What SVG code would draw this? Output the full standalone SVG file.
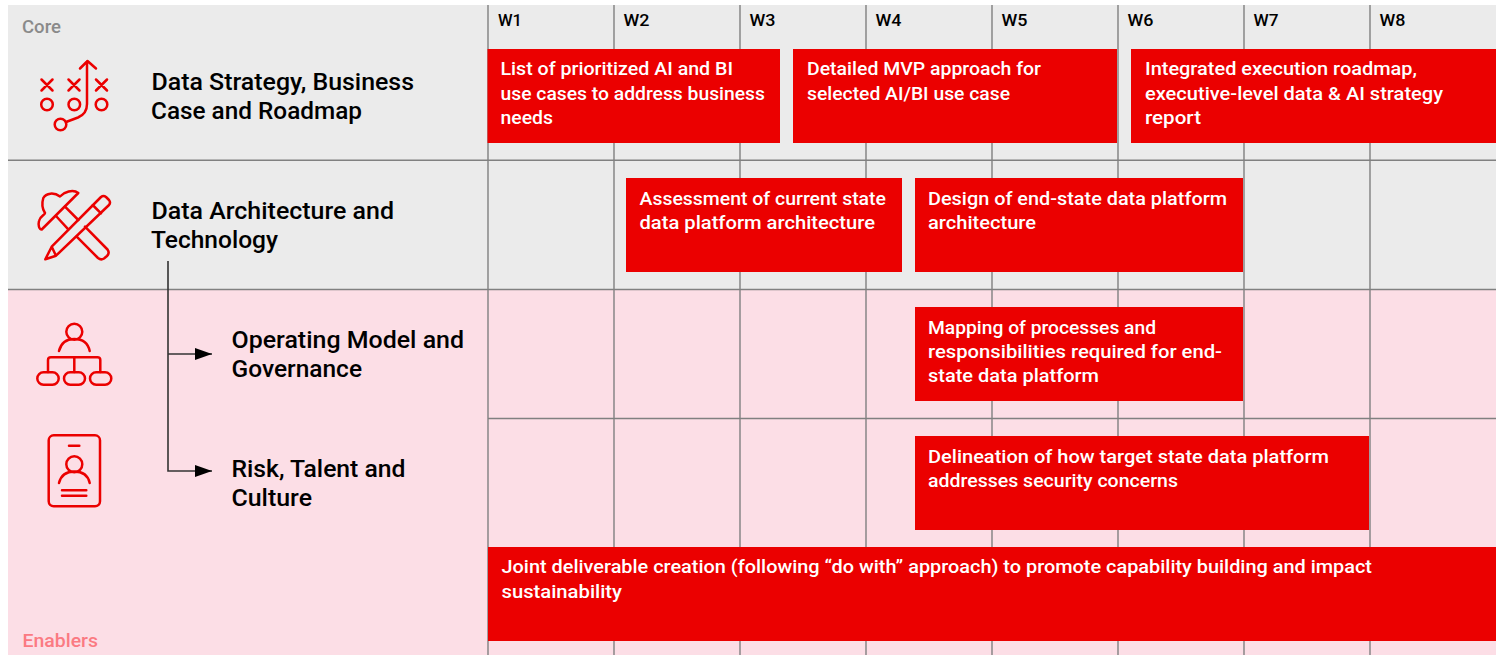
<svg xmlns="http://www.w3.org/2000/svg" width="1501" height="655" viewBox="0 0 1501 655">
<defs>
<marker id="arrow" markerUnits="userSpaceOnUse" markerWidth="18" markerHeight="14" refX="17" refY="6.5" orient="auto"><path d="M0 0.5L17 6.5L0 12.5Z" fill="#000"/></marker>
</defs>
<style>
text{font-family:Roboto,"Noto Sans","Liberation Sans",sans-serif;font-weight:500}
.h{font-size:24.500px;fill:#000}
.w{font-size:17px;fill:#000}
.b{font-size:18.500px;fill:#fff}
.g{fill:none;stroke:#808080;stroke-width:1.4}
.box{fill:#eb0000}
.i{fill:none;stroke:#eb0000;stroke-width:2.500;stroke-linecap:round;stroke-linejoin:round}
.c{fill:none;stroke:#333;stroke-width:1.6}
</style>
<rect x="8" y="5" width="1488" height="285" fill="#ebebeb"/>
<rect x="8" y="290" width="1488" height="365" fill="#fcdee6"/>
<g id="grid">
<path class="g" d="M488 5V655M614 5V655M740 5V655M866 5V655M992 5V655M1118 5V655M1244 5V655M1370 5V655M8 160.300H1496M8 289.500H1496M488 418.500H1496"/>
</g>
<text x="22" y="33" font-size="17.500" fill="#8a8a8a" textLength="39" lengthAdjust="spacingAndGlyphs">Core</text>
<text x="22.500" y="647" font-size="17.500" fill="#fb7a82" textLength="75.500" lengthAdjust="spacingAndGlyphs">Enablers</text>
<g id="weeks">
<text class="w" x="498" y="26" textLength="24" lengthAdjust="spacingAndGlyphs">W1</text>
<text class="w" x="623.500" y="26" textLength="26" lengthAdjust="spacingAndGlyphs">W2</text>
<text class="w" x="749.500" y="26" textLength="26" lengthAdjust="spacingAndGlyphs">W3</text>
<text class="w" x="875.500" y="26" textLength="26" lengthAdjust="spacingAndGlyphs">W4</text>
<text class="w" x="1001.500" y="26" textLength="26" lengthAdjust="spacingAndGlyphs">W5</text>
<text class="w" x="1127.500" y="26" textLength="26" lengthAdjust="spacingAndGlyphs">W6</text>
<text class="w" x="1253.500" y="26" textLength="25" lengthAdjust="spacingAndGlyphs">W7</text>
<text class="w" x="1379.500" y="26" textLength="26" lengthAdjust="spacingAndGlyphs">W8</text>
</g>
<g id="connectors">
<path class="c" d="M168 261V471H212" marker-end="url(#arrow)"/>
<path class="c" d="M168 354H212" marker-end="url(#arrow)"/>
</g>
<g id="node-strategy">
<g class="i">
<path d="M41.500 79.500L52.500 90.500M52.500 79.500L41.500 90.500M68.500 79.500L79.500 90.500M79.500 79.500L68.500 90.500M96 79.500L107 90.500M107 79.500L96 90.500"/>
<circle cx="47" cy="104.500" r="5.800"/><circle cx="74.300" cy="104.500" r="5.800"/><circle cx="101.500" cy="104.500" r="5.800"/><circle cx="60.500" cy="124.500" r="5.800"/>
<path d="M66 122L78 117.500C84 115 87 110 87 104V61.500M80 68.500L87.500 61L96 68.500"/>
</g>
<text class="h" x="151.500" y="90" textLength="262.500" lengthAdjust="spacingAndGlyphs">Data Strategy, Business</text>
<text class="h" x="151" y="119" textLength="211" lengthAdjust="spacingAndGlyphs">Case and Roadmap</text>
</g>
<g id="node-architecture">
<g class="i">
<path d="M78.300 193L41.700 229.500C39 229.500 38 225 39 221C40 216 45 215 45 213C43 210 41.500 204 43.300 198C46 193 54 192 60 196.500C64 192 73 189 78.300 193Z"/>
<path d="M65 206.700L78.300 220M56 216L68.300 229.300M85 226.700L107.500 249.500Q110 253 107 256L104 258.500Q101 260.500 98 258L76.700 236.700"/>
<path d="M45.300 259.300L51.700 246.700L101 197Q103.500 195 106 197L109 200Q111 202.500 109 205L56 255.700ZM92.700 205L101 213.300M51.700 246.700L56 255.700"/>
</g>
<text class="h" x="151.500" y="219" textLength="242.500" lengthAdjust="spacingAndGlyphs">Data Architecture and</text>
<text class="h" x="151" y="248" textLength="127" lengthAdjust="spacingAndGlyphs">Technology</text>
</g>
<g id="node-operating">
<g class="i">
<circle cx="74.300" cy="331.700" r="8"/>
<path d="M59 351C61 343 67 339 74.300 339C82 339 88 343 89.700 351"/>
<path d="M48 372V360Q48 357.300 51 357.300H97.300Q100.300 357.300 100.300 360V372M74.300 357.300V372"/>
<rect x="37.300" y="372.300" width="21.400" height="12.400" rx="6.200"/><rect x="64" y="372.300" width="21" height="12.400" rx="6.200"/><rect x="90" y="372.300" width="21.300" height="12.400" rx="6.200"/>
</g>
<text class="h" x="231.500" y="348" textLength="232.500" lengthAdjust="spacingAndGlyphs">Operating Model and</text>
<text class="h" x="231.500" y="377" textLength="130.500" lengthAdjust="spacingAndGlyphs">Governance</text>
</g>
<g id="node-risk">
<g class="i">
<rect x="48.700" y="435.300" width="51.300" height="71" rx="5"/>
<path d="M69 445.700H79.300"/>
<circle cx="74.300" cy="464.300" r="8"/>
<path d="M59 483C61 475 67 471.500 74.300 471.500C82 471.500 88 475 89.700 483M62 490.300H86.300M62 495.700H86.300"/>
</g>
<text class="h" x="231.500" y="477" textLength="174" lengthAdjust="spacingAndGlyphs">Risk, Talent and</text>
<text class="h" x="231.500" y="506" textLength="80.500" lengthAdjust="spacingAndGlyphs">Culture</text>
</g>
<g id="task-1">
<rect class="box" x="487.500" y="49" width="292.500" height="94"/>
<text class="b" x="500.500" y="75" textLength="232.500" lengthAdjust="spacingAndGlyphs">List of prioritized AI and BI</text>
<text class="b" x="500.500" y="100" textLength="264.500" lengthAdjust="spacingAndGlyphs">use cases to address business</text>
<text class="b" x="500.500" y="124" textLength="52.500" lengthAdjust="spacingAndGlyphs">needs</text>
</g>
<g id="task-2">
<rect class="box" x="793" y="49" width="324" height="94"/>
<text class="b" x="807" y="75" textLength="234" lengthAdjust="spacingAndGlyphs">Detailed MVP approach for</text>
<text class="b" x="807" y="100" textLength="203" lengthAdjust="spacingAndGlyphs">selected AI/BI use case</text>
</g>
<g id="task-3">
<rect class="box" x="1131" y="49" width="365" height="94"/>
<text class="b" x="1145" y="75" textLength="272" lengthAdjust="spacingAndGlyphs">Integrated execution roadmap,</text>
<text class="b" x="1145" y="100" textLength="298" lengthAdjust="spacingAndGlyphs">executive-level data &amp; AI strategy</text>
<text class="b" x="1145" y="124" textLength="56" lengthAdjust="spacingAndGlyphs">report</text>
</g>
<g id="task-4">
<rect class="box" x="626" y="178" width="276" height="94"/>
<text class="b" x="639.500" y="205" textLength="246.500" lengthAdjust="spacingAndGlyphs">Assessment of current state</text>
<text class="b" x="639.500" y="229" textLength="235.500" lengthAdjust="spacingAndGlyphs">data platform architecture</text>
</g>
<g id="task-5">
<rect class="box" x="915" y="178" width="328" height="94"/>
<text class="b" x="928" y="205" textLength="299" lengthAdjust="spacingAndGlyphs">Design of end-state data platform</text>
<text class="b" x="928" y="229" textLength="108" lengthAdjust="spacingAndGlyphs">architecture</text>
</g>
<g id="task-6">
<rect class="box" x="915" y="307" width="328" height="94"/>
<text class="b" x="928" y="334" textLength="228" lengthAdjust="spacingAndGlyphs">Mapping of processes and</text>
<text class="b" x="928" y="358" textLength="294" lengthAdjust="spacingAndGlyphs">responsibilities required for end-</text>
<text class="b" x="928" y="382" textLength="171" lengthAdjust="spacingAndGlyphs">state data platform</text>
</g>
<g id="task-7">
<rect class="box" x="915" y="436" width="454" height="94"/>
<text class="b" x="928" y="463" textLength="401" lengthAdjust="spacingAndGlyphs">Delineation of how target state data platform</text>
<text class="b" x="928" y="487" textLength="250" lengthAdjust="spacingAndGlyphs">addresses security concerns</text>
</g>
<g id="task-8">
<rect class="box" x="488" y="547" width="1008" height="94"/>
<text class="b" x="501.500" y="573" textLength="870.500" lengthAdjust="spacingAndGlyphs">Joint deliverable creation (following “do with” approach) to promote capability building and impact</text>
<text class="b" x="501.500" y="598" textLength="120.500" lengthAdjust="spacingAndGlyphs">sustainability</text>
</g>
</svg>
